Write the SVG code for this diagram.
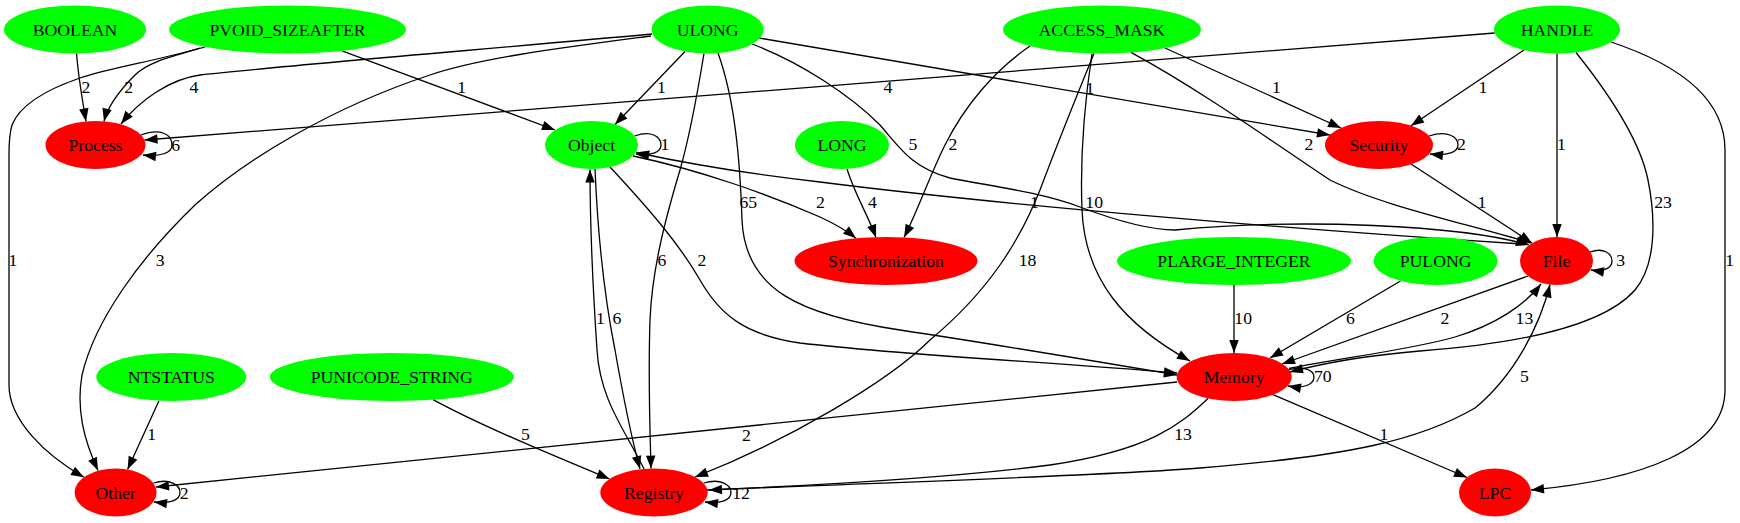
<svg xmlns="http://www.w3.org/2000/svg" width="1740" height="523" viewBox="0 0 1740 523">
<style>
text{font-family:"Liberation Serif","Times New Roman",serif;font-size:17.7px;fill:#000;text-anchor:middle}
.g{fill:#00ff00}
.r{fill:#ff0000}
.e path{fill:none;stroke:#000;stroke-width:1.3;marker-end:url(#ah)}
</style>
<defs>
<marker id="ah" markerUnits="userSpaceOnUse" markerWidth="14" markerHeight="10" refX="13" refY="4.75" orient="auto" overflow="visible"><path d="M0,0 L13,4.75 L0,9.5 z" fill="#000"/></marker>
</defs>
<rect width="1740" height="523" fill="#fff"/>
<g id="connectors" class="e">
<path d="M76.6,53.5 C78,75 82,98 86,121.4"/><text x="86" y="93.3">2</text>
<path d="M205,47 C170,57 148,62 135,75 C120,90 108,105 104,121.4"/><text x="128.7" y="93.3">2</text>
<path d="M652,34 C500,48 280,66 200,75 C170,79 140,100 121,124"/><text x="194" y="93.3">4</text>
<path d="M342,50.8 L555,130"/><text x="461.7" y="93.3">1</text>
<path d="M685,51.5 L615,124.5"/><text x="661.4" y="93.3">1</text>
<path d="M1494.7,33 L144.5,140"/><text x="888" y="93.3">4</text>
<path d="M759,38 L1330,135"/><text x="1089.8" y="94">1</text>
<path d="M1165,48 L1341,128"/><text x="1276.5" y="93.3">1</text>
<path d="M1524,50 L1411,125.7"/><text x="1483" y="93.3">1</text>
<path d="M141,135 C160,128 172,134 172,145 C172,153 160,157 143,155"/><text x="175.7" y="151">6</text>
<path d="M634.6,136 C652,130 661,137 661,145 C661,152 652,156 636,154"/><text x="665" y="150">1</text>
<path d="M752,44 C800,62 850,95 880,125 C900,148 912,168 950,178 C990,186 1040,192 1080,207 C1120,222 1150,230 1175,230 C1300,218 1460,225 1529,245"/><text x="913" y="150">5</text>
<path d="M1030,46 C995,70 965,105 945,145 C930,175 918,210 904,237.5"/><text x="953" y="150">2</text>
<path d="M1131,52.4 C1200,90 1270,140 1330,180 C1380,205 1460,222 1531,243"/><text x="1309" y="150">2</text>
<path d="M1429,136 C1448,130 1458,137 1458,145 C1458,152 1448,156 1430,154"/><text x="1461.5" y="150">2</text>
<path d="M1557,53.5 L1557,237"/><text x="1561.4" y="150">1</text>
<path d="M633,156 C700,170 770,195 820,217 C835,224 846,230 856,238.3"/><text x="820.5" y="208.3">2</text>
<path d="M847,169 C855,195 868,215 876,237.6"/><text x="872.3" y="208.3">4</text>
<path d="M718,53 C735,100 740,160 742,220 C745,290 800,315 900,330 C1000,345 1100,362 1177,375"/><text x="748.3" y="208.3">65</text>
<path d="M1522,244 C1300,230 1000,205 820,182 C740,173 680,162 636,152.5"/><text x="1034.3" y="208.3">1</text>
<path d="M1092,53.5 C1085,100 1080,160 1082,210 C1085,280 1125,325 1190,361"/><text x="1094.2" y="208.3">10</text>
<path d="M1411,164 L1532,243"/><text x="1481.9" y="208.3">1</text>
<path d="M1576,52.5 C1610,95 1640,140 1648,180 C1656,220 1656,265 1635,290 C1600,330 1500,345 1420,351 C1360,356 1320,364 1290,372"/><text x="1663" y="208.3">23</text>
<path d="M200,48 C160,60 110,68 80,78 C45,90 20,105 12,125 C9,135 9,145 9,155 L9,385 C9,420 45,455 84,477.2"/><text x="13" y="266">1</text>
<path d="M651,36 C560,48 480,58 430,75 C330,108 245,160 195,205 C140,258 95,320 82,375 C76,410 84,440 98,470.5"/><text x="160.2" y="266">3</text>
<path d="M704,53.5 C698,90 690,135 680,170 C665,220 652,270 650,320 C648,380 650,430 651,468.5"/><text x="662" y="266">6</text>
<path d="M610,167 C650,210 680,245 700,280 C720,315 745,335 800,343 C900,355 1050,362 1177,373"/><text x="702" y="266">2</text>
<path d="M1094,53.5 C1075,100 1055,150 1040,190 C1020,240 990,290 930,340 C890,380 790,440 695,477"/><text x="1027.6" y="266">18</text>
<path d="M1590,252 C1604,247 1612,254 1612,261 C1612,268 1604,272 1591,270"/><text x="1620.6" y="266">3</text>
<path d="M1611,42 C1680,65 1725,100 1725,150 L1725,390 C1725,450 1640,480 1531,490"/><text x="1729.7" y="266">1</text>
<path d="M644,469 C625,430 600,400 597,350 C593,290 590,220 590,169.5"/><text x="600.3" y="324.3">1</text>
<path d="M595,169 C598,240 605,300 615,350 C622,390 632,440 640,469"/><text x="617" y="324.3">6</text>
<path d="M1234,285 L1234,353"/><text x="1243.2" y="324.3">10</text>
<path d="M1400.5,281 L1270,358"/><text x="1350.5" y="324.3">6</text>
<path d="M1528,276 L1282,364"/><text x="1444.9" y="324.3">2</text>
<path d="M1289,368.5 C1340,358 1410,350 1455,337 C1495,325 1525,305 1541,284"/><text x="1524.4" y="324.3">13</text>
<path d="M1288,370 C1305,365 1314,371 1314,377 C1314,384 1305,389 1288,386"/><text x="1322.8" y="382.3">70</text>
<path d="M707,490 C900,482 1100,476 1200,468 C1350,456 1420,440 1475,408 C1515,375 1540,325 1550,284.5"/><text x="1524.4" y="382.3">5</text>
<path d="M159,400.7 L127.6,469.5"/><text x="151.7" y="439.7">1</text>
<path d="M433,399.6 C480,425 540,450 609.6,479"/><text x="525.3" y="439.7">5</text>
<path d="M1177,382 L156,487"/><text x="746.5" y="440.7">2</text>
<path d="M1208,398.5 C1180,425 1150,450 1050,465 C950,478 800,486 709,490"/><text x="1183" y="439.7">13</text>
<path d="M1273,394.7 L1467,477.5"/><text x="1383.8" y="439.7">1</text>
<path d="M153.6,483 C170,478 180,485 180,492.5 C180,500 170,504 154,502"/><text x="184.2" y="499">2</text>
<path d="M703.8,483 C721,478 731,485 731,492.5 C731,500 721,504 705,502"/><text x="741" y="499">12</text>
</g>
<g id="BOOLEAN"><ellipse class="g" cx="75" cy="29.5" rx="71" ry="24"/><text x="75" y="35.5">BOOLEAN</text></g>
<g id="PVOID_SIZEAFTER"><ellipse class="g" cx="287.5" cy="29.5" rx="118.5" ry="24"/><text x="287.5" y="35.5">PVOID_SIZEAFTER</text></g>
<g id="ULONG"><ellipse class="g" cx="707.6" cy="29.5" rx="56" ry="24"/><text x="707.6" y="35.5">ULONG</text></g>
<g id="ACCESS_MASK"><ellipse class="g" cx="1102" cy="29.5" rx="99" ry="24"/><text x="1102" y="35.5">ACCESS_MASK</text></g>
<g id="HANDLE"><ellipse class="g" cx="1557" cy="29.5" rx="63" ry="24"/><text x="1557" y="35.5">HANDLE</text></g>
<g id="Process"><ellipse class="r" cx="95.5" cy="145" rx="50" ry="24"/><text x="95.5" y="151">Process</text></g>
<g id="Object"><ellipse class="g" cx="591.5" cy="145" rx="46.5" ry="24"/><text x="591.5" y="151">Object</text></g>
<g id="LONG"><ellipse class="g" cx="842" cy="145" rx="47" ry="24"/><text x="842" y="151">LONG</text></g>
<g id="Security"><ellipse class="r" cx="1379" cy="145" rx="54" ry="24"/><text x="1379" y="151">Security</text></g>
<g id="Synchronization"><ellipse class="r" cx="886" cy="261" rx="91.5" ry="24"/><text x="886" y="267">Synchronization</text></g>
<g id="PLARGE_INTEGER"><ellipse class="g" cx="1234" cy="261" rx="117" ry="24"/><text x="1234" y="267">PLARGE_INTEGER</text></g>
<g id="PULONG"><ellipse class="g" cx="1435.6" cy="261" rx="62" ry="24"/><text x="1435.6" y="267">PULONG</text></g>
<g id="File"><ellipse class="r" cx="1556.5" cy="261" rx="36.5" ry="24"/><text x="1556.5" y="267">File</text></g>
<g id="NTSTATUS"><ellipse class="g" cx="171.3" cy="377" rx="75" ry="24"/><text x="171.3" y="383">NTSTATUS</text></g>
<g id="PUNICODE_STRING"><ellipse class="g" cx="391.8" cy="377" rx="122" ry="24"/><text x="391.8" y="383">PUNICODE_STRING</text></g>
<g id="Memory"><ellipse class="r" cx="1234.2" cy="377" rx="57.5" ry="24"/><text x="1234.2" y="383">Memory</text></g>
<g id="Other"><ellipse class="r" cx="115.6" cy="492.5" rx="41" ry="24"/><text x="115.6" y="498.5">Other</text></g>
<g id="Registry"><ellipse class="r" cx="654" cy="492.5" rx="53.7" ry="24"/><text x="654" y="498.5">Registry</text></g>
<g id="LPC"><ellipse class="r" cx="1495" cy="492.5" rx="36" ry="24"/><text x="1495" y="498.5">LPC</text></g>
</svg>
